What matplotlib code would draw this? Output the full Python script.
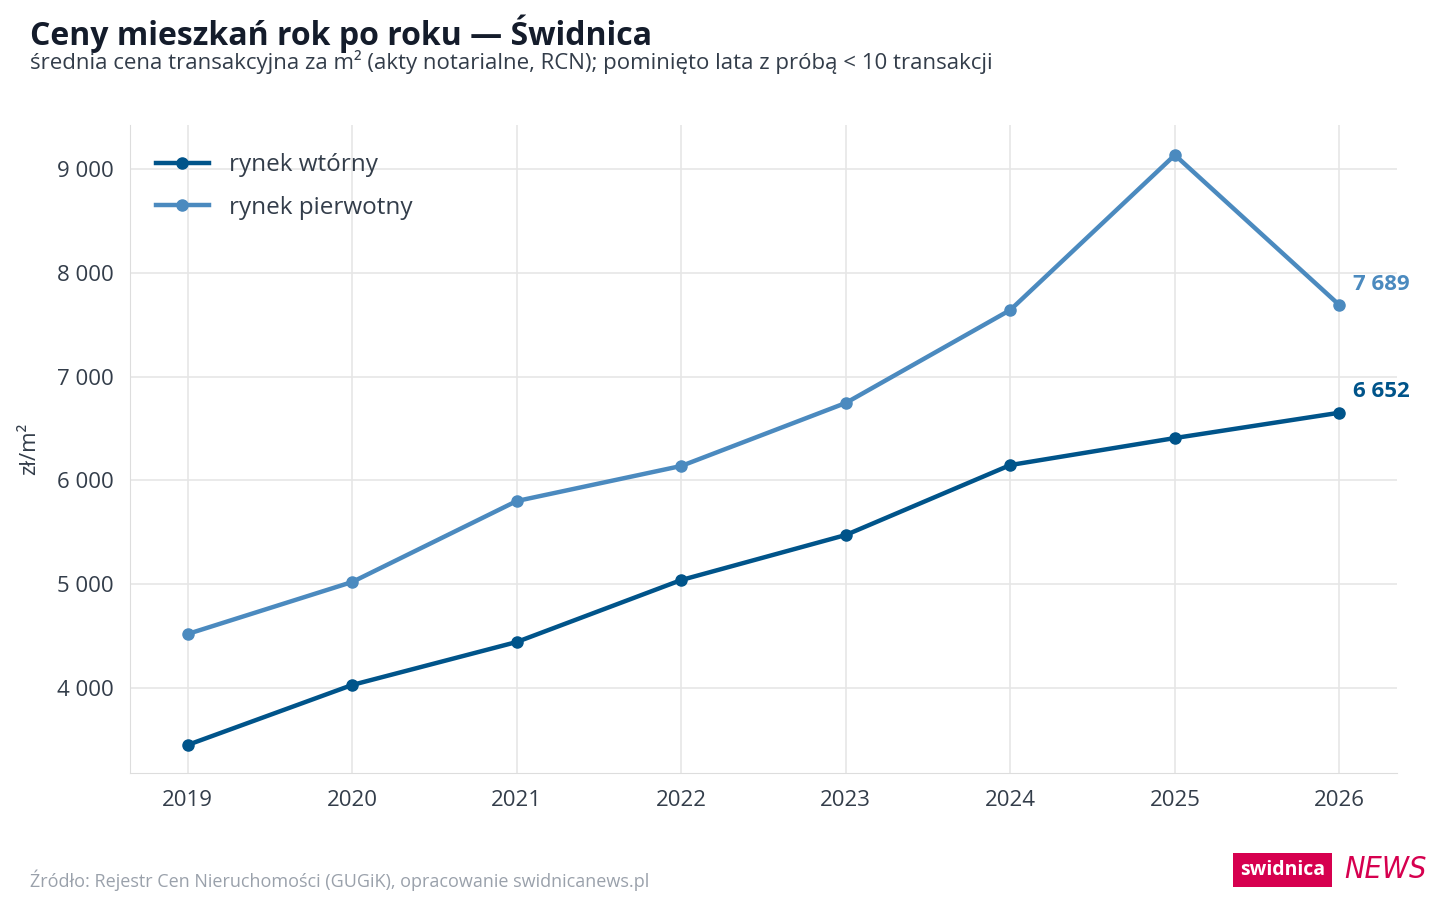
import matplotlib.pyplot as plt
from matplotlib.ticker import FuncFormatter

plt.rcParams["font.family"] = ["Open Sans", "DejaVu Sans"]

years = [2019, 2020, 2021, 2022, 2023, 2024, 2025, 2026]
wtorny = [3451, 4029, 4443, 5040, 5474, 6148, 6408, 6652]
pierwotny = [4520, 5021, 5801, 6139, 6746, 7642, 9135, 7689]

C_WT = "#00548a"
C_PI = "#4b8abf"

fig = plt.figure(figsize=(14.4, 9), dpi=100)
ax = fig.add_axes([130 / 1440, 1 - 773 / 900, 1267 / 1440, 648 / 900])

ax.plot(years, wtorny, color=C_WT, lw=3.2, marker="o", ms=8, label="rynek wtórny", zorder=3)
ax.plot(years, pierwotny, color=C_PI, lw=3.2, marker="o", ms=8, label="rynek pierwotny", zorder=3)

ax.set_xlim(2018.65, 2026.35)
ax.set_ylim(3181, 9424)
ax.set_xticks(years)
ax.set_yticks(range(4000, 9001, 1000))
ax.yaxis.set_major_formatter(FuncFormatter(lambda v, p: f"{int(v):,}".replace(",", " ")))
ax.tick_params(labelsize=16, colors="#333d4a", length=0, pad=12)
ax.grid(True, color="#e6e6e6", lw=1.2)
ax.set_axisbelow(True)
for s in ["top", "right"]:
    ax.spines[s].set_visible(False)
for s in ["left", "bottom"]:
    ax.spines[s].set_color("#dddddd")
ax.set_ylabel("zł/m²", fontsize=16, color="#333d4a", labelpad=12)

ax.annotate(f"{pierwotny[-1]:,}".replace(",", " "), (years[-1], pierwotny[-1]), xytext=(10, 11),
            textcoords="offset points", color=C_PI, fontsize=16, fontweight="bold")
ax.annotate(f"{wtorny[-1]:,}".replace(",", " "), (years[-1], wtorny[-1]), xytext=(10, 11),
            textcoords="offset points", color=C_WT, fontsize=16, fontweight="bold")

leg = ax.legend(loc="upper left", fontsize=17.5, frameon=False, handlelength=2.2,
                bbox_to_anchor=(0.003, 0.99), labelcolor="#333d4a", labelspacing=0.75)

fig.text(30 / 1440, 1 - 34 / 900, "Ceny mieszkań rok po roku — Świdnica", fontsize=23,
         fontweight="bold", color="#141c2b", va="center")
fig.text(30 / 1440, 1 - 62 / 900,
         "średnia cena transakcyjna za m² (akty notarialne, RCN); pominięto lata z próbą < 10 transakcji",
         fontsize=16, color="#333d4a", va="center")
fig.text(30 / 1440, 1 - 880 / 900, "Źródło: Rejestr Cen Nieruchomości (GUGiK), opracowanie swidnicanews.pl",
         fontsize=13, color="#9aa1ab", va="center")

# logo
fig.text(1240 / 1440, 1 - 870 / 900, "swidnica", fontsize=14, fontweight="bold", color="white",
         va="center", bbox=dict(boxstyle="square,pad=0.35", fc="#d6004f", ec="none"))
fig.text(1344 / 1440, 1 - 869 / 900, "NEWS", fontsize=22, fontstyle="italic", color="#d6004f",
         va="center", family=["Liberation Sans Narrow", "DejaVu Sans"], fontstretch="condensed")

fig.savefig("out.png", dpi=100)
